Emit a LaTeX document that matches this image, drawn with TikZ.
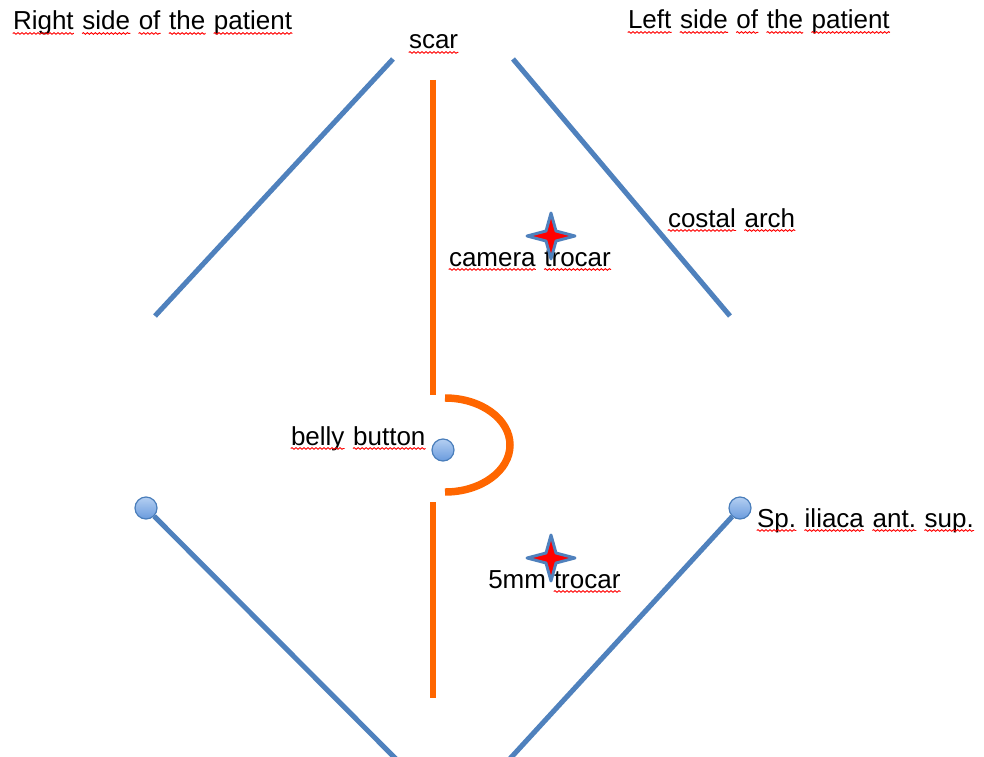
\documentclass[tikz,border=0pt]{standalone}
\usepackage{fontspec}
\setmainfont{Liberation Sans}
\usetikzlibrary{decorations.pathmorphing}
\definecolor{lineblue}{HTML}{4F81BD}
\definecolor{scarorange}{HTML}{FF6600}
\definecolor{dotedge}{HTML}{4A7EBB}
\definecolor{dottop}{HTML}{B4CFF2}
\definecolor{dotbot}{HTML}{6A9BDD}
\frenchspacing
\newcommand\sq[1]{\tikz[baseline=(w.base)]{\node[inner sep=0pt,anchor=base](w){#1};\draw[red,line width=0.7pt,decorate,decoration={snake,amplitude=0.6pt,segment length=3pt}]([yshift=-2.6pt]w.base west)--([yshift=-2.6pt]w.base east);}}
\newcommand\trocarstar[1]{%
  \draw[starshape] ([shift={(0,-23)}]#1) -- ([shift={(5,-5)}]#1) -- ([shift={(24,0)}]#1) -- ([shift={(5,5)}]#1)
    -- ([shift={(0,23)}]#1) -- ([shift={(-5,5)}]#1) -- ([shift={(-24,0)}]#1) -- ([shift={(-5,-5)}]#1) -- cycle;}
\begin{document}
\begin{tikzpicture}[x=0.75pt,y=-0.75pt,
  lbl/.style={font=\fontsize{19.5pt}{23pt}\selectfont,inner sep=0pt,text=black,anchor=base west},
  blueline/.style={lineblue,line width=3.8pt},
  scarline/.style={scarorange,line width=3.8pt},
  navel/.style={scarorange,line width=5.6pt},
  dot/.style={circle,minimum size=16.5pt,inner sep=0pt,top color=dottop,bottom color=dotbot,draw=dotedge,line width=0.9pt},
  starshape/.style={fill=red,draw=lineblue,line width=2.2pt,line join=round}]
\useasboundingbox (0,0) rectangle (984,756);

% coordinates of line ends
\coordinate (ulA) at (155,316); \coordinate (ulB) at (393,59);
\coordinate (urA) at (513,59);  \coordinate (urB) at (730,316);
\coordinate (llB) at (400,763);
\coordinate (lrB) at (506,763);
\coordinate (scA) at (433,80);  \coordinate (scB) at (433,395);
\coordinate (scC) at (433,502); \coordinate (scD) at (433,698);
\coordinate (navTop) at (445,398);
\coordinate (camstar) at (551,236);
\coordinate (fivestar) at (551,558);

% texts
\node[lbl] (rside) at (12,30) {\sq{Right} \sq{side} \sq{of} \sq{the} \sq{patient}};
\node[lbl] (lside) at (627,29) {\sq{Left} \sq{side} \sq{of} \sq{the} \sq{patient}};
\node[lbl] (scar) at (408,49) {\sq{scar}};
\node[lbl] (costal) at (667,227) {\sq{costal} \sq{arch}};
\node[lbl] (camera) at (448,266) {\sq{camera} \sq{trocar}};
\node[lbl] (belly) at (290,445) {\sq{belly} \sq{button}};
\node[lbl] (iliaca) at (756,527) {\sq{Sp.} \sq{iliaca} \sq{ant.} \sq{sup.}};
\node[lbl] (five) at (488,588) {5mm \sq{trocar}};

% costal arches
\draw[blueline] (ulA) -- (ulB);
\draw[blueline] (urA) -- (urB);

% iliac spines and lower lines
\node[dot] (iliR) at (146,508) {};
\node[dot] (iliL) at (740,508) {};
\draw[blueline] (iliR) -- (llB);
\draw[blueline] (iliL) -- (lrB);

% scar
\draw[scarline] (scA) -- (scB);
\draw[scarline] (scC) -- (scD);
\draw[navel] (navTop) arc[start angle=-90,end angle=90,x radius=65,y radius=47];
\node[dot] (navel) at (443,450) {};

% trocars
\trocarstar{camstar}
\trocarstar{fivestar}
\end{tikzpicture}
\end{document}
